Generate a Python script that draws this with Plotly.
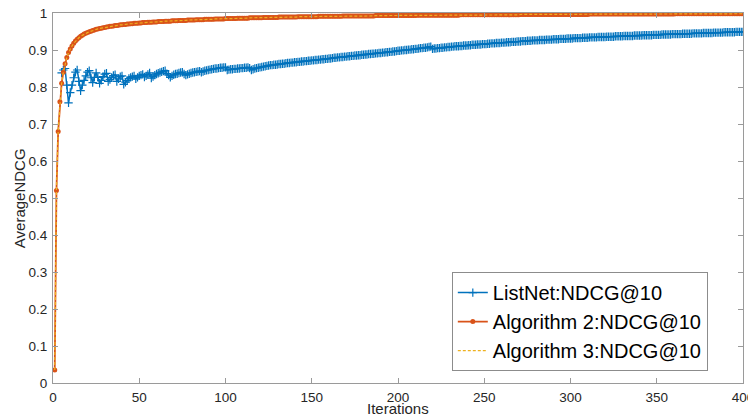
import plotly.graph_objects as go

# ---------------- data ----------------
LISTNET_START = 5
listnet = [
    0.838, 0.846, 0.850, 0.805, 0.757, 0.785,
    0.805, 0.825, 0.840, 0.846, 0.815, 0.790, 0.805, 0.818, 0.830, 0.840,
    0.844, 0.825, 0.812, 0.826, 0.838, 0.826, 0.810, 0.818, 0.828, 0.835,
    0.837, 0.815, 0.820, 0.826, 0.831, 0.833, 0.815, 0.822, 0.828, 0.830,
    0.807, 0.813, 0.818, 0.823, 0.826, 0.828, 0.830, 0.822, 0.826, 0.830,
    0.832, 0.834, 0.827, 0.830, 0.834, 0.838, 0.824, 0.828, 0.832, 0.835,
    0.837, 0.839, 0.841, 0.843, 0.844, 0.836, 0.832, 0.826, 0.830, 0.833,
    0.835, 0.836, 0.838, 0.839, 0.840, 0.835, 0.832, 0.834, 0.836, 0.838,
    0.839, 0.840, 0.841, 0.842, 0.843, 0.840, 0.842, 0.844, 0.845, 0.846,
    0.847, 0.848, 0.849, 0.850, 0.850, 0.851, 0.852, 0.852, 0.853, 0.853,
    0.846, 0.847, 0.848, 0.848, 0.849, 0.849, 0.850, 0.850, 0.851, 0.851,
    0.852, 0.852, 0.853, 0.851, 0.846, 0.848, 0.850, 0.851, 0.852, 0.853,
    0.854, 0.855, 0.856, 0.857, 0.858, 0.859, 0.859, 0.860, 0.860, 0.861,
    0.862, 0.862, 0.863, 0.863, 0.864, 0.865, 0.865, 0.866, 0.866, 0.867,
    0.867, 0.868, 0.868, 0.869, 0.869, 0.870, 0.870, 0.871, 0.871, 0.872,
    0.872, 0.873, 0.873, 0.874, 0.874, 0.875, 0.875, 0.876, 0.876, 0.877,
    0.877, 0.878, 0.879, 0.879, 0.880, 0.880, 0.881, 0.881, 0.882, 0.882,
    0.883, 0.883, 0.884, 0.884, 0.885, 0.885, 0.886, 0.886, 0.887, 0.887,
    0.888, 0.888, 0.889, 0.889, 0.890, 0.890, 0.891, 0.891, 0.892, 0.892,
    0.893, 0.893, 0.894, 0.894, 0.895, 0.895, 0.896, 0.896, 0.897, 0.898,
    0.898, 0.899, 0.899, 0.900, 0.900, 0.901, 0.901, 0.902, 0.902, 0.903,
    0.903, 0.904, 0.905, 0.905, 0.906, 0.906, 0.907, 0.908, 0.909, 0.903,
    0.904, 0.904, 0.905, 0.905, 0.906, 0.906, 0.907, 0.907, 0.908, 0.908,
    0.909, 0.909, 0.910, 0.910, 0.910, 0.911, 0.911, 0.912, 0.912, 0.912,
    0.913, 0.913, 0.914, 0.914, 0.914, 0.915, 0.915, 0.915, 0.916, 0.916,
    0.916, 0.917, 0.917, 0.918, 0.918, 0.918, 0.919, 0.919, 0.919, 0.920,
    0.920, 0.920, 0.921, 0.921, 0.921, 0.922, 0.922, 0.922, 0.923, 0.923,
    0.923, 0.924, 0.924, 0.924, 0.925, 0.925, 0.925, 0.926, 0.926, 0.926,
    0.926, 0.927, 0.927, 0.927, 0.927, 0.928, 0.928, 0.928, 0.928, 0.929,
    0.929, 0.929, 0.929, 0.930, 0.930, 0.930, 0.930, 0.931, 0.931, 0.931,
    0.931, 0.932, 0.932, 0.932, 0.932, 0.932, 0.933, 0.933, 0.933, 0.933,
    0.934, 0.934, 0.934, 0.934, 0.934, 0.935, 0.935, 0.935, 0.935, 0.935,
    0.936, 0.936, 0.936, 0.936, 0.936, 0.937, 0.937, 0.937, 0.937, 0.937,
    0.938, 0.938, 0.938, 0.938, 0.938, 0.938, 0.939, 0.939, 0.939, 0.939,
    0.939, 0.940, 0.940, 0.940, 0.940, 0.940, 0.940, 0.941, 0.941, 0.941,
    0.941, 0.941, 0.942, 0.942, 0.942, 0.942, 0.942, 0.942, 0.943, 0.943,
    0.943, 0.943, 0.943, 0.943, 0.944, 0.944, 0.944, 0.944, 0.944, 0.944,
    0.945, 0.945, 0.945, 0.945, 0.945, 0.945, 0.946, 0.946, 0.946, 0.946,
    0.946, 0.946, 0.947, 0.947, 0.947, 0.947, 0.947, 0.947, 0.948, 0.948,
    0.948, 0.948, 0.948, 0.948, 0.948, 0.949, 0.949, 0.949, 0.949, 0.949,
]

algorithm2 = [
    0.035, 0.520, 0.680, 0.760, 0.810, 0.840, 0.863, 0.880, 0.893, 0.903,
    0.911, 0.918, 0.924, 0.929, 0.933, 0.937, 0.940, 0.943, 0.945, 0.947,
    0.949, 0.951, 0.953, 0.954, 0.956, 0.957, 0.958, 0.959, 0.960, 0.961,
    0.962, 0.963, 0.964, 0.964, 0.965, 0.966, 0.966, 0.967, 0.968, 0.968,
    0.969, 0.969, 0.970, 0.970, 0.971, 0.971, 0.972, 0.972, 0.972, 0.973,
    0.973, 0.974, 0.974, 0.974, 0.975, 0.975, 0.975, 0.976, 0.976, 0.976,
    0.977, 0.977, 0.977, 0.977, 0.978, 0.978, 0.978, 0.978, 0.979, 0.979,
    0.979, 0.979, 0.980, 0.980, 0.980, 0.980, 0.980, 0.981, 0.981, 0.981,
    0.981, 0.981, 0.982, 0.982, 0.982, 0.982, 0.982, 0.983, 0.983, 0.983,
    0.983, 0.983, 0.983, 0.984, 0.984, 0.984, 0.984, 0.984, 0.984, 0.985,
    0.985, 0.985, 0.985, 0.985, 0.985, 0.985, 0.986, 0.986, 0.986, 0.986,
    0.986, 0.986, 0.986, 0.987, 0.987, 0.987, 0.987, 0.987, 0.987, 0.987,
    0.987, 0.988, 0.988, 0.988, 0.988, 0.988, 0.988, 0.988, 0.988, 0.988,
    0.989, 0.989, 0.989, 0.989, 0.989, 0.989, 0.989, 0.989, 0.989, 0.989,
    0.989, 0.990, 0.990, 0.990, 0.990, 0.990, 0.990, 0.990, 0.990, 0.990,
    0.990, 0.990, 0.990, 0.991, 0.991, 0.991, 0.991, 0.991, 0.991, 0.991,
    0.991, 0.991, 0.991, 0.991, 0.991, 0.991, 0.991, 0.992, 0.992, 0.992,
    0.992, 0.992, 0.992, 0.992, 0.992, 0.992, 0.992, 0.992, 0.992, 0.992,
    0.992, 0.992, 0.992, 0.992, 0.992, 0.992, 0.993, 0.993, 0.993, 0.993,
    0.993, 0.993, 0.993, 0.993, 0.993, 0.993, 0.993, 0.993, 0.993, 0.993,
    0.993, 0.993, 0.993, 0.993, 0.993, 0.993, 0.993, 0.993, 0.993, 0.993,
    0.994, 0.994, 0.994, 0.994, 0.994, 0.994, 0.994, 0.994, 0.994, 0.994,
    0.994, 0.994, 0.994, 0.994, 0.994, 0.994, 0.994, 0.994, 0.994, 0.994,
    0.994, 0.994, 0.994, 0.994, 0.994, 0.995, 0.995, 0.995, 0.995, 0.995,
    0.995, 0.995, 0.995, 0.995, 0.995, 0.995, 0.995, 0.995, 0.995, 0.995,
    0.995, 0.995, 0.995, 0.995, 0.995, 0.995, 0.995, 0.995, 0.995, 0.995,
    0.995, 0.995, 0.995, 0.995, 0.995, 0.995, 0.995, 0.995, 0.995, 0.995,
    0.996, 0.996, 0.996, 0.996, 0.996, 0.996, 0.996, 0.996, 0.996, 0.996,
    0.996, 0.996, 0.996, 0.996, 0.996, 0.996, 0.996, 0.996, 0.996, 0.996,
    0.996, 0.996, 0.996, 0.996, 0.996, 0.996, 0.996, 0.996, 0.996, 0.996,
    0.996, 0.996, 0.996, 0.996, 0.996, 0.996, 0.996, 0.996, 0.996, 0.996,
    0.997, 0.997, 0.997, 0.997, 0.997, 0.997, 0.997, 0.997, 0.997, 0.997,
    0.997, 0.997, 0.997, 0.997, 0.997, 0.997, 0.997, 0.997, 0.997, 0.997,
    0.997, 0.997, 0.997, 0.997, 0.997, 0.997, 0.997, 0.997, 0.997, 0.997,
    0.997, 0.997, 0.997, 0.997, 0.997, 0.997, 0.997, 0.997, 0.997, 0.997,
    0.997, 0.997, 0.997, 0.997, 0.997, 0.997, 0.997, 0.997, 0.997, 0.997,
    0.998, 0.998, 0.998, 0.998, 0.998, 0.998, 0.998, 0.998, 0.998, 0.998,
    0.998, 0.998, 0.998, 0.998, 0.998, 0.998, 0.998, 0.998, 0.998, 0.998,
    0.998, 0.998, 0.998, 0.998, 0.998, 0.998, 0.998, 0.998, 0.998, 0.998,
    0.998, 0.998, 0.998, 0.998, 0.998, 0.998, 0.998, 0.998, 0.998, 0.998,
]

# Algorithm 3 overlaps Algorithm 2 exactly in the picture
algorithm3 = list(algorithm2)

series_names = ["ListNet:NDCG@10", "Algorithm 2:NDCG@10", "Algorithm 3:NDCG@10"]
x_ticks = [0, 50, 100, 150, 200, 250, 300, 350, 400]
y_ticks = [0, 0.1, 0.2, 0.3, 0.4, 0.5, 0.6, 0.7, 0.8, 0.9, 1]
y_tick_labels = ["0", "0.1", "0.2", "0.3", "0.4", "0.5", "0.6", "0.7", "0.8", "0.9", "1"]
x_title = "Iterations"
y_title = "AverageNDCG"

# ---------------- figure ----------------
FONT = "Liberation Sans, Arial, Helvetica, sans-serif"
BLUE = "#0072BD"
ORANGE = "#D95319"
YELLOW = "#EDB120"
AXIS = "#9a9a9a"
TEXT = "#262626"

x_listnet = list(range(LISTNET_START, LISTNET_START + len(listnet)))
x_alg = list(range(1, len(algorithm2) + 1))

fig = go.Figure()
fig.add_trace(go.Scatter(
    x=x_listnet, y=listnet, name=series_names[0], mode="lines+markers",
    line=dict(color=BLUE, width=1.5),
    marker=dict(symbol="cross-thin", size=6, line=dict(color=BLUE, width=1.2), color=BLUE),
))
fig.add_trace(go.Scatter(
    x=x_alg, y=algorithm2, name=series_names[1], mode="lines+markers",
    line=dict(color=ORANGE, width=1.8),
    marker=dict(symbol="circle", size=5, color=ORANGE),
))
fig.add_trace(go.Scatter(
    x=x_alg, y=algorithm3, name=series_names[2], mode="lines",
    line=dict(color=YELLOW, width=1.2, dash="3px,2px"),
))

axis_common = dict(
    showline=True, linecolor=AXIS, linewidth=1, mirror="ticks",
    ticks="inside", ticklen=5, tickcolor=AXIS, tickwidth=1,
    showgrid=False, zeroline=False, automargin=False,
    ticklabeloverflow="allow",
    tickfont=dict(family=FONT, size=13.5, color=TEXT),
)

fig.update_layout(
    width=756, height=414,
    margin=dict(l=45, r=21, t=5, b=39, autoexpand=False),
    paper_bgcolor="white", plot_bgcolor="white",
    font=dict(family=FONT, color=TEXT),
    xaxis=dict(range=[0, 400], tickvals=x_ticks, ticklabelstandoff=2, **axis_common),
    yaxis=dict(range=[0, 1], tickvals=y_ticks, ticktext=y_tick_labels,
               ticklabelstandoff=2, **axis_common),
    showlegend=True,
    legend=dict(
        x=0.949, xanchor="right", y=0.166, yanchor="middle",
        bgcolor="white", bordercolor="#8c8c8c", borderwidth=1,
        font=dict(family=FONT, size=20, color="black"),
        tracegroupgap=0, itemwidth=30,
    ),
    annotations=[
        dict(text=x_title, xref="paper", yref="paper", x=0.5, y=-0.0676,
             xanchor="center", yanchor="middle", showarrow=False,
             font=dict(family=FONT, size=15, color=TEXT)),
        dict(text=y_title, xref="paper", yref="paper", x=-0.049, y=0.5,
             xanchor="center", yanchor="middle", showarrow=False, textangle=-90,
             font=dict(family=FONT, size=15, color=TEXT)),
    ],
)

fig.write_html("out.html")
